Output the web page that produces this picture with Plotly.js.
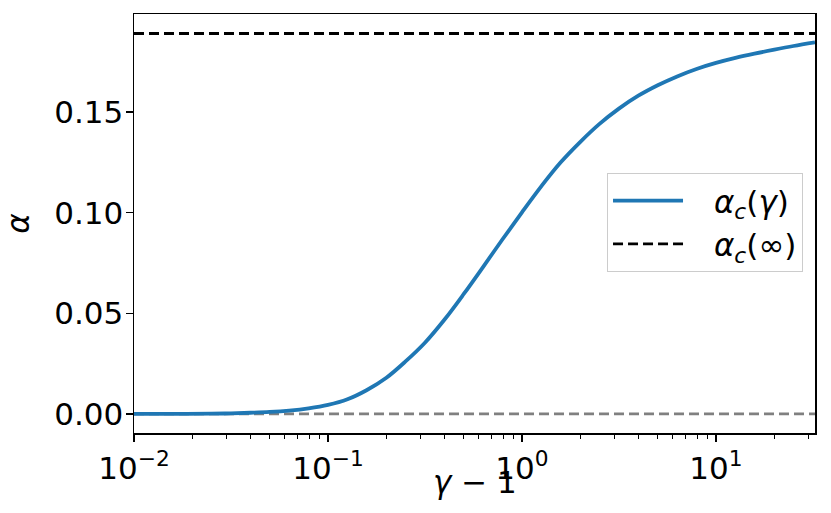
<!DOCTYPE html>
<html>
<head>
<meta charset="utf-8">
<script src="https://cdn.plot.ly/plotly-3.0.1.min.js"></script>
<style>
html,body{margin:0;padding:0;background:#fff;}
#chart{width:831px;height:513px;}
</style>
</head>
<body>
<div id="chart"></div>
<script>
// Data
var gammaMinus1 = [0.01, 0.0158, 0.0251, 0.0316, 0.0398, 0.0501, 0.0631, 0.0794, 0.1, 0.126, 0.158, 0.2, 0.251, 0.316, 0.398, 0.501, 0.631, 0.794, 1, 1.26, 1.58, 2.0, 2.51, 3.16, 3.98, 5.01, 6.31, 7.94, 10, 12.6, 15.8, 20, 25.1, 32.4];
var alphaC = [0.0000, 0.00005, 0.00015, 0.0003, 0.0006, 0.0010, 0.0017, 0.0028, 0.0045, 0.0073, 0.0118, 0.0180, 0.0261, 0.0354, 0.0468, 0.0596, 0.0731, 0.0868, 0.1002, 0.1132, 0.1249, 0.1352, 0.1441, 0.1517, 0.1581, 0.1633, 0.1677, 0.1714, 0.1744, 0.1769, 0.1790, 0.1810, 0.1828, 0.1846];
var alphaInf = 0.189;
var xSpan = [0.01, 32.4];

var xTickVals = [0.01, 0.1, 1, 10];
var xTickText = ['10<sup>−2</sup>', '10<sup>−1</sup>', '10<sup>0</sup>', '10<sup>1</sup>'];
var yTickVals = [0, 0.05, 0.10, 0.15];

var minorVals = [];
for (var d = -2; d <= 1; d++) {
  for (var m = 2; m <= 9; m++) {
    var v = m * Math.pow(10, d);
    if (v <= xSpan[1]) minorVals.push(v);
  }
}

var FONT = 'DejaVu Sans';
var FS = 31;
var SP = '\u00a0\u00a0\u2009';

var traces = [
  {
    x: xSpan, y: [0, 0], mode: 'lines', showlegend: false, hoverinfo: 'skip',
    line: {color: '#808080', width: 2.8, dash: '10px,5px'}
  },
  {
    x: gammaMinus1, y: alphaC, mode: 'lines', name: SP + '<i>α</i><sub><i>c</i></sub>(<i>γ</i>)',
    legendgroup: 'a',
    line: {color: '#1f77b4', width: 3.8, shape: 'spline', smoothing: 1}
  },
  {
    x: xSpan, y: [alphaInf, alphaInf], mode: 'lines', name: SP + '<i>α</i><sub><i>c</i></sub>(∞)',
    legendgroup: 'b',
    line: {color: '#000000', width: 2.8, dash: '10px,5px'}
  }
];

var layout = {
  width: 831, height: 513,
  margin: {l: 134, r: 16, t: 14, b: 80, pad: 0},
  paper_bgcolor: '#ffffff', plot_bgcolor: '#ffffff',
  font: {family: FONT, size: FS, color: '#000000'},
  showlegend: true,
  legend: {
    x: 0.6946, y: 0.6205, xanchor: 'left', yanchor: 'top',
    bgcolor: 'rgba(255,255,255,0.8)', bordercolor: '#cccccc', borderwidth: 1,
    font: {family: FONT, size: FS, color: '#000000'},
    traceorder: 'grouped', tracegroupgap: 0, itemwidth: 70
  },
  xaxis: {
    type: 'log', range: [-2, Math.log10(xSpan[1])], autorange: false,
    showgrid: false, zeroline: false,
    showline: true, linecolor: '#000', linewidth: 1.5, mirror: true,
    ticks: 'outside', ticklen: 7, tickwidth: 1.3, tickcolor: '#000',
    tickmode: 'array', tickvals: xTickVals, ticktext: xTickText,
    tickfont: {family: FONT, size: FS},
    minor: {tickmode: 'array', tickvals: minorVals, ticks: 'outside', ticklen: 4, tickwidth: 1, tickcolor: '#000', showgrid: false}
  },
  yaxis: {
    range: [-0.00946, 0.1987], autorange: false,
    showgrid: false, zeroline: false,
    showline: true, linecolor: '#000', linewidth: 1.5, mirror: true,
    ticks: 'outside', ticklen: 7, tickwidth: 1.3, tickcolor: '#000',
    tickmode: 'array', tickvals: yTickVals, tickformat: '.2f',
    tickfont: {family: FONT, size: FS},
    ticklabelstandoff: -4,
    title: {text: '<i>α</i>', font: {family: FONT, size: FS}, standoff: 18}
  },
  annotations: [
    {text: '<i>γ</i> − 1', xref: 'paper', yref: 'paper', x: 0.5, y: -0.117,
     xanchor: 'center', yanchor: 'middle', showarrow: false,
     font: {family: FONT, size: FS, color: '#000'}}
  ]
};

Plotly.newPlot('chart', traces, layout, {staticPlot: true, displayModeBar: false});
</script>
</body>
</html>
